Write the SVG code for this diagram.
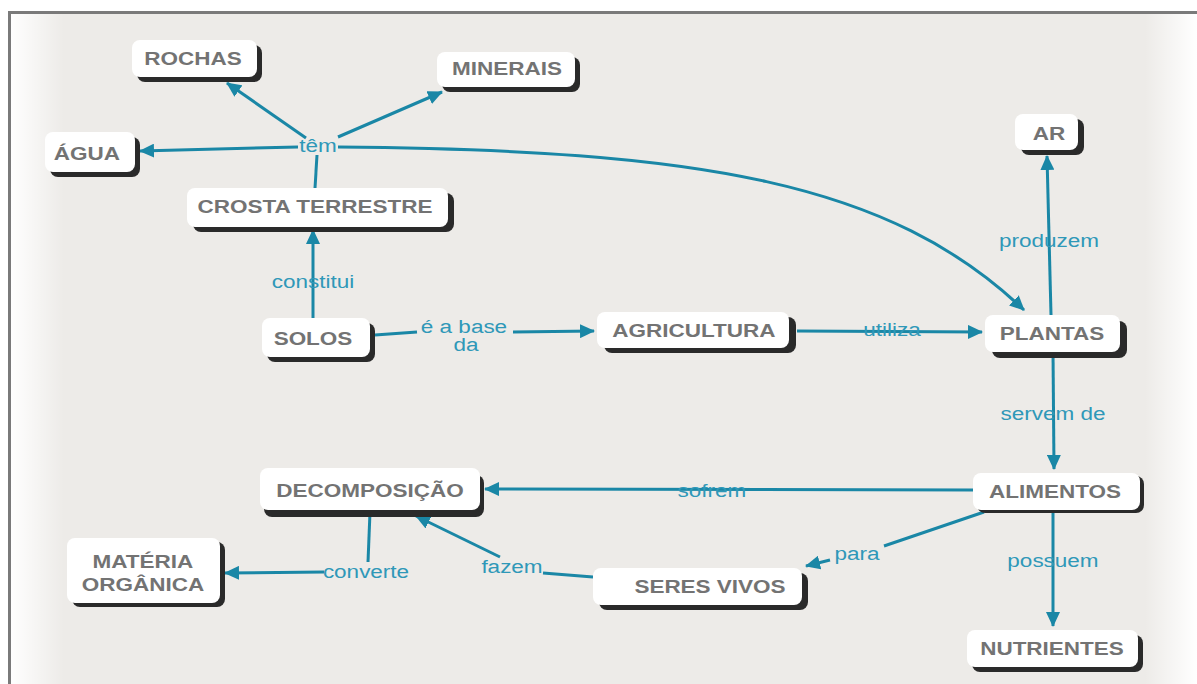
<svg xmlns="http://www.w3.org/2000/svg" width="1197" height="684" viewBox="0 0 1197 684">
  <defs>
    <linearGradient id="fadeLeft" x1="0" y1="0" x2="1" y2="0">
      <stop offset="0" stop-color="#ffffff" stop-opacity="1"/>
      <stop offset="1" stop-color="#ffffff" stop-opacity="0"/>
    </linearGradient>
    <linearGradient id="fadeRight" x1="0" y1="0" x2="1" y2="0">
      <stop offset="0" stop-color="#ffffff" stop-opacity="0"/>
      <stop offset="1" stop-color="#ffffff" stop-opacity="1"/>
    </linearGradient>
    <marker id="arrow" viewBox="0 0 15 14" refX="14" refY="7" markerWidth="15" markerHeight="14" markerUnits="userSpaceOnUse" orient="auto">
      <path d="M0,0 L15,7 L0,14 z" fill="#1a87a6"/>
    </marker>
    <style>
      .shadow { fill: #2a2a2a; }
      .box { fill: #ffffff; }
      .name { font-family: "Liberation Sans", Arial, sans-serif; font-weight: bold; font-size: 18px; fill: #737373; text-anchor: middle; transform-box: fill-box; transform-origin: center; transform: scaleX(1.25); }
      .link { fill: none; stroke: #1a87a6; stroke-width: 3; }
      .tip { marker-end: url(#arrow); }
      .lbl { font-family: "Liberation Sans", Arial, sans-serif; font-size: 18px; fill: #2f98b8; text-anchor: middle; transform-box: fill-box; transform-origin: center; transform: scaleX(1.25); }
    </style>
  </defs>

  <!-- paper and frame -->
  <rect x="0" y="0" width="1197" height="684" fill="#ffffff"/>
  <rect x="9" y="12" width="1188" height="672" fill="#edebe8"/>
  <rect x="9" y="12" width="55" height="672" fill="url(#fadeLeft)"/>
  <rect x="1145" y="12" width="52" height="672" fill="url(#fadeRight)"/>
  <path d="M8,12.5 H1197 M9.5,11 V684" fill="none" stroke="#7a7a7a" stroke-width="3"/>

  <!-- connectors -->
  <g id="connectors">
    <path class="link" d="M315,188 L317,155"/>
    <path class="link tip" d="M306,138 L227,83"/>
    <path class="link tip" d="M338,137 L442,92"/>
    <path class="link tip" d="M298,147 L140,151"/>
    <path class="link tip" d="M338,147 C700,150 890,182 1024,310"/>
    <path class="link tip" d="M313,318 L313,230"/>
    <path class="link" d="M375,335 L417,332"/>
    <path class="link tip" d="M513,332 L594,331"/>
    <path class="link tip" d="M797,331 L982,332"/>
    <path class="link tip" d="M1051,315 L1047,156"/>
    <path class="link tip" d="M1053,352 L1054,469"/>
    <path class="link tip" d="M973,490 L485,489"/>
    <path class="link" d="M984,512 L884,546"/>
    <path class="link tip" d="M830,560 L806,566"/>
    <path class="link tip" d="M1053,510 L1053,626"/>
    <path class="link" d="M593,577 L543,573"/>
    <path class="link tip" d="M500,557 L416,516"/>
    <path class="link" d="M370,512 L368,562"/>
    <path class="link tip" d="M324,572 L225,573"/>
  </g>

  <!-- connector labels -->
  <g id="labels">
    <text class="lbl" x="318" y="152">têm</text>
    <text class="lbl" x="313" y="288">constitui</text>
    <text class="lbl" x="464" y="333">é a base</text>
    <text class="lbl" x="466" y="351">da</text>
    <text class="lbl" x="892" y="336">utiliza</text>
    <text class="lbl" x="1049" y="247">produzem</text>
    <text class="lbl" x="1053" y="420">servem de</text>
    <text class="lbl" x="712" y="497">sofrem</text>
    <text class="lbl" x="857" y="560">para</text>
    <text class="lbl" x="1053" y="567">possuem</text>
    <text class="lbl" x="512" y="573">fazem</text>
    <text class="lbl" x="366" y="578">converte</text>
  </g>

  <!-- concept nodes -->
  <g id="rochas">
    <rect class="shadow" x="137" y="45" width="125" height="37" rx="8"/>
    <rect class="box" x="132" y="40" width="125" height="37" rx="8"/>
    <text class="name" x="193" y="65">ROCHAS</text>
  </g>
  <g id="minerais">
    <rect class="shadow" x="442" y="57" width="138" height="35" rx="8"/>
    <rect class="box" x="437" y="52" width="138" height="35" rx="8"/>
    <text class="name" x="507" y="75">MINERAIS</text>
  </g>
  <g id="agua">
    <rect class="shadow" x="50" y="137" width="90" height="40" rx="8"/>
    <rect class="box" x="45" y="132" width="90" height="40" rx="8"/>
    <text class="name" x="87" y="160">ÁGUA</text>
  </g>
  <g id="crosta-terrestre">
    <rect class="shadow" x="193" y="193" width="261" height="39" rx="8"/>
    <rect class="box" x="187" y="188" width="261" height="39" rx="8"/>
    <text class="name" x="315" y="213">CROSTA TERRESTRE</text>
  </g>
  <g id="solos">
    <rect class="shadow" x="267" y="323" width="108" height="39" rx="8"/>
    <rect class="box" x="262" y="318" width="108" height="39" rx="8"/>
    <text class="name" x="313" y="345">SOLOS</text>
  </g>
  <g id="agricultura">
    <rect class="shadow" x="604" y="317" width="192" height="36" rx="8"/>
    <rect class="box" x="597" y="312" width="192" height="36" rx="8"/>
    <text class="name" x="694" y="337">AGRICULTURA</text>
  </g>
  <g id="plantas">
    <rect class="shadow" x="992" y="321" width="135" height="37" rx="8"/>
    <rect class="box" x="985" y="315" width="135" height="37" rx="8"/>
    <text class="name" x="1052" y="340">PLANTAS</text>
  </g>
  <g id="ar">
    <rect class="shadow" x="1021" y="119" width="63" height="36" rx="8"/>
    <rect class="box" x="1015" y="114" width="63" height="36" rx="8"/>
    <text class="name" x="1049" y="140">AR</text>
  </g>
  <g id="alimentos">
    <rect class="shadow" x="977" y="476" width="167" height="37" rx="8"/>
    <rect class="box" x="973" y="473" width="167" height="37" rx="8"/>
    <text class="name" x="1055" y="498">ALIMENTOS</text>
  </g>
  <g id="decomposicao">
    <rect class="shadow" x="264" y="475" width="220" height="42" rx="8"/>
    <rect class="box" x="260" y="468" width="220" height="42" rx="8"/>
    <text class="name" x="370" y="497">DECOMPOSIÇÃO</text>
  </g>
  <g id="seres-vivos">
    <rect class="shadow" x="599" y="573" width="209" height="37" rx="8"/>
    <rect class="box" x="593" y="568" width="209" height="37" rx="8"/>
    <text class="name" x="710" y="593">SERES VIVOS</text>
  </g>
  <g id="nutrientes">
    <rect class="shadow" x="972" y="635" width="171" height="37" rx="8"/>
    <rect class="box" x="967" y="630" width="171" height="37" rx="8"/>
    <text class="name" x="1052" y="655">NUTRIENTES</text>
  </g>
  <g id="materia-organica">
    <rect class="shadow" x="72" y="542" width="153" height="65" rx="8"/>
    <rect class="box" x="67" y="538" width="153" height="65" rx="8"/>
    <text class="name" x="143" y="568">MATÉRIA</text>
    <text class="name" x="143" y="591">ORGÂNICA</text>
  </g>
</svg>
